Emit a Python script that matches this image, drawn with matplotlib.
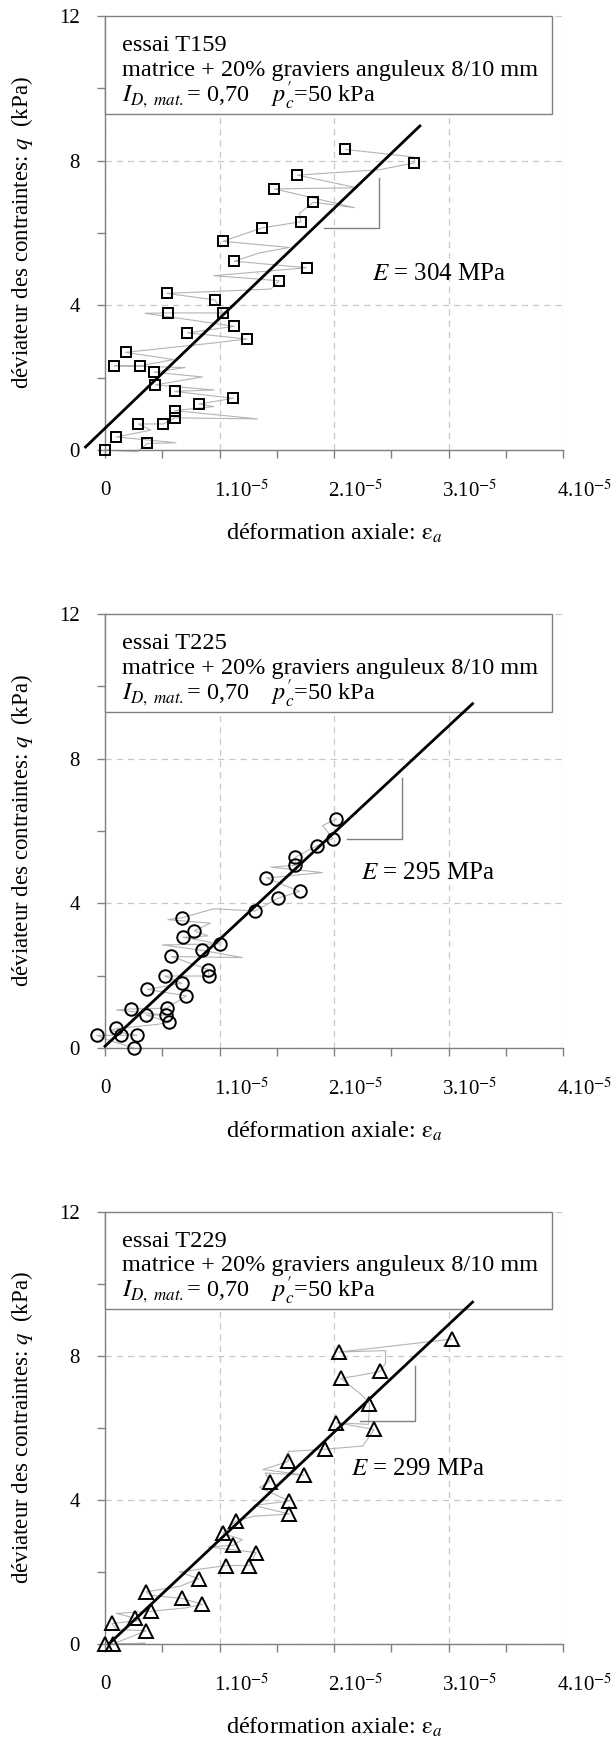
import numpy as np
import matplotlib
matplotlib.use("Agg")
import matplotlib.pyplot as plt
from matplotlib.patches import Rectangle
from matplotlib.transforms import ScaledTranslation

plt.rcParams['font.family'] = ['Liberation Serif', 'DejaVu Serif']
plt.rcParams['mathtext.fontset'] = 'stix'

# --- data (strain in units of 1e-5, q in kPa) ---
tests = ["T159", "T225", "T229"]
moduli = [304, 295, 299]          # MPa
intercepts = [0.6, 0.05, -0.1]    # kPa
fit_x0 = [-0.17, 0.0, 0.04]
fit_x1 = [2.75, 3.21, 3.21]

# slope triangles: x_left, x_right, q_low, q_high
tri_x = [(1.91, 2.39), (2.11, 2.59), (2.23, 2.71)]
tri_q = [(6.14, 7.53), (5.79, 7.47), (6.20, 7.72)]
e_label_pos = [(2.33, 4.87), (2.24, 4.83), (2.15, 4.85)]

t159_x = [0, 0.37, 0.10, 0.29, 0.51, 0.61, 0.61, 0.82, 1.12, 0.61, 0.44, 0.43, 0.08,
          0.31, 0.18, 1.24, 0.72, 1.13, 0.55, 1.03, 0.96, 0.54, 1.52, 1.76, 1.13,
          1.03, 1.37, 1.71, 1.82, 1.48, 1.68, 2.10, 2.70]
t159_q = [0, 0.18, 0.36, 0.72, 0.72, 0.89, 1.09, 1.27, 1.43, 1.62, 1.80, 2.15, 2.33,
          2.33, 2.70, 3.07, 3.24, 3.42, 3.79, 3.79, 4.15, 4.33, 4.68, 5.04, 5.22,
          5.77, 6.14, 6.31, 6.85, 7.22, 7.60, 8.31, 7.94]

t225_x = [0.25, -0.07, 0.14, 0.28, 0.10, 0.56, 0.36, 0.53, 0.23, 0.54, 0.71, 0.37,
          0.67, 0.52, 0.91, 0.90, 0.58, 0.85, 1.00, 0.68, 0.78, 0.67, 1.31, 1.51,
          1.70, 1.41, 1.66, 1.66, 1.85, 1.99, 2.02]
t225_q = [0.0, 0.35, 0.35, 0.35, 0.54, 0.71, 0.91, 0.91, 1.08, 1.10, 1.44, 1.62,
          1.79, 1.99, 1.99, 2.17, 2.53, 2.70, 2.88, 3.06, 3.24, 3.60, 3.79, 4.14,
          4.33, 4.70, 5.05, 5.27, 5.59, 5.79, 6.33]

t229_x = [0, 0.07, 0.36, 0.06, 0.26, 0.40, 0.85, 0.67, 0.36, 0.82, 1.06, 1.26, 1.32,
          1.12, 1.03, 1.14, 1.61, 1.61, 1.44, 1.74, 1.60, 1.92, 2.35, 2.02, 2.31,
          2.06, 2.40, 2.04, 3.03]
t229_q = [0, 0, 0.37, 0.57, 0.72, 0.91, 1.10, 1.27, 1.45, 1.81, 2.18, 2.18, 2.54,
          2.74, 3.07, 3.41, 3.61, 3.97, 4.51, 4.69, 5.07, 5.41, 5.96, 6.15, 6.67,
          7.38, 7.57, 8.11, 8.47]

# raw signal traces (grey)
trace159_x = [0, 0.28, 0.37, 0.62, 0.10, 0.40, 0.29, 0.51, 0.61, 1.33, 0.61, 0.95, 0.82,
              1.12, 0.61, 0.95, 0.44, 0.85, 0.43, 0.70, 0.08, 0.31, 0.60, 0.18, 0.95,
              1.24, 0.72, 1.13, 0.35, 0.55, 1.03, 0.96, 0.54, 1.45, 1.52, 0.95, 1.76,
              1.13, 1.35, 1.61, 1.03, 1.37, 1.71, 1.70, 1.82, 2.18, 1.48, 2.20, 1.68,
              2.40, 2.70, 2.70, 2.10]
trace159_q = [0, -0.05, 0.18, 0.20, 0.36, 0.55, 0.72, 0.72, 0.89, 0.86, 1.09, 1.20, 1.27,
              1.43, 1.62, 1.66, 1.80, 2.02, 2.15, 2.28, 2.33, 2.33, 2.50, 2.70, 2.96,
              3.07, 3.24, 3.42, 3.78, 3.79, 3.79, 4.15, 4.33, 4.45, 4.68, 4.82, 5.04,
              5.22, 5.45, 5.60, 5.77, 6.14, 6.31, 6.55, 6.85, 6.70, 7.22, 7.25, 7.60,
              7.75, 7.94, 8.10, 8.31]
trace225_x = [0.25, 0.0, -0.07, 0.14, 0.28, 0.05, 0.10, 0.45, 0.56, 0.36, 0.53, 0.10,
              0.23, 0.54, 0.71, 0.37, 0.67, 0.52, 0.91, 0.90, 0.58, 1.20, 0.85, 0.50,
              1.00, 0.68, 0.90, 0.78, 0.92, 0.55, 0.67, 0.95, 1.31, 1.51, 1.70, 1.41,
              1.90, 1.45, 1.66, 1.66, 1.85, 1.99, 1.90, 2.02]
trace225_q = [0.0, 0.25, 0.35, 0.35, 0.35, 0.48, 0.54, 0.65, 0.71, 0.91, 0.91, 1.05,
              1.08, 1.10, 1.44, 1.62, 1.79, 1.99, 1.99, 2.17, 2.53, 2.50, 2.70, 2.85,
              2.88, 3.06, 3.10, 3.24, 3.45, 3.55, 3.60, 3.85, 3.79, 4.14, 4.33, 4.70,
              4.85, 5.00, 5.05, 5.27, 5.59, 5.79, 6.15, 6.33]
trace229_x = [0, 0.35, 0.07, 0.36, 0.10, 0.06, 0.30, 0.26, 0.10, 0.40, 0.70, 0.85, 0.67,
              0.40, 0.36, 0.65, 0.82, 0.65, 1.06, 1.26, 1.32, 0.90, 1.12, 1.20, 1.03,
              1.14, 1.30, 1.61, 1.30, 1.61, 1.35, 1.44, 1.40, 1.74, 1.38, 1.60, 1.60,
              1.92, 2.25, 2.35, 2.02, 2.30, 2.31, 2.25, 2.06, 2.20, 2.40, 2.45, 2.45,
              2.04, 2.30, 3.03]
trace229_q = [0, 0.02, 0, 0.37, 0.40, 0.57, 0.65, 0.72, 0.85, 0.91, 1.00, 1.10, 1.27,
              1.35, 1.45, 1.60, 1.81, 2.00, 2.18, 2.18, 2.54, 2.70, 2.74, 2.90, 3.07,
              3.41, 3.55, 3.61, 3.85, 3.97, 4.35, 4.51, 4.75, 4.69, 4.85, 5.07, 5.35,
              5.41, 5.50, 5.96, 6.15, 6.10, 6.67, 6.90, 7.38, 7.45, 7.57, 7.80, 8.15,
              8.11, 8.20, 8.47]

points_x = [t159_x, t225_x, t229_x]
points_q = [t159_q, t225_q, t229_q]
traces_x = [trace159_x, trace225_x, trace229_x]
traces_q = [trace159_q, trace225_q, trace229_q]
markers = ['s', 'o', '^']
msizes = [7.5, 9, 9.5]

xtick_labels = ['0', r'1.10$^{-5}$', r'2.10$^{-5}$', r'3.10$^{-5}$', r'4.10$^{-5}$']
ytick_labels = ['0', '4', '8', '12']

# axes rectangles in pixels (left, top, width, height) on a 613x1737 canvas
W, H = 613, 1737
panels_px = [(105, 16, 458, 434), (105, 614, 458, 434), (105, 1212, 458, 432)]

grey = '#808080'
fig = plt.figure(figsize=(W / 100, H / 100), dpi=100)

for i in range(3):
    l, t, w, h = panels_px[i]
    ax = fig.add_axes([l / W, (H - t - h) / H, w / W, h / H])
    ax.set_xlim(0, 4)
    ax.set_ylim(0, 12)
    for s in ['top', 'right']:
        ax.spines[s].set_visible(False)
    for s in ['left', 'bottom']:
        ax.spines[s].set_color(grey)
        ax.spines[s].set_linewidth(1)

    ax.set_xticks([0, 1, 2, 3, 4])
    ax.set_xticks([0.5, 1.5, 2.5, 3.5], minor=True)
    ax.set_yticks([0, 4, 8, 12])
    ax.set_yticks([2, 6, 10], minor=True)
    ax.set_xticklabels(xtick_labels, fontsize=15)
    ax.set_yticklabels(ytick_labels, fontsize=15)
    ax.tick_params(which='both', direction='out', length=6, width=1, color=grey)
    ax.tick_params(axis='x', which='major', pad=16)
    ax.tick_params(axis='y', which='major', pad=12)
    for k, lab in enumerate(ax.get_xticklabels()):
        if k > 0:
            lab.set_horizontalalignment('left')
            lab.set_transform(lab.get_transform() +
                              ScaledTranslation(-6 / 100, 0, fig.dpi_scale_trans))

    ax.grid(True, which='major', ls=(0, (5, 4)), color='#c8c8c8', lw=0.9)
    ax.set_axisbelow(True)

    # info box
    ax.add_patch(Rectangle((0, 9.3), 3.9, 2.7, facecolor='white', edgecolor=grey,
                           lw=1, zorder=3, clip_on=False))
    ax.text(0.15, 11.18, "essai " + tests[i], fontsize=17.5, va='center', zorder=4)
    ax.text(0.15, 10.5, "matrice + 20% graviers anguleux 8/10 mm", fontsize=17.5,
            va='center', zorder=4)
    ax.text(0.15, 9.8, r"$I_{D,\ mat.}$= 0,70    $p_{c}^{\prime}$=50 kPa", fontsize=17.5,
            va='center', zorder=4)

    # raw trace
    ax.plot(traces_x[i], traces_q[i], color='#b4b4b4', lw=0.8, zorder=2, clip_on=False)

    # linear fit
    xf = np.array([fit_x0[i], fit_x1[i]])
    ax.plot(xf, moduli[i] * 1e3 * xf * 1e-5 + intercepts[i], color='black', lw=2,
            zorder=5, clip_on=False)

    # points
    ax.plot(points_x[i], points_q[i], ls='none', marker=markers[i], ms=msizes[i],
            mfc='none', mec='black', mew=1.4, zorder=6, clip_on=False)

    # slope triangle
    (xa, xb), (qa, qb) = tri_x[i], tri_q[i]
    ax.plot([xa, xb, xb], [qa, qa, qb], color=grey, lw=1, zorder=4)
    ax.text(e_label_pos[i][0], e_label_pos[i][1], r"$E$ = %d MPa" % moduli[i],
            fontsize=18, va='center', zorder=4)

    ax.set_xlabel(r"déformation axiale: $\mathrm{ε}_{a}$", fontsize=17.5, labelpad=14)
    ax.set_ylabel(r"déviateur des contraintes: $q$  (kPa)", fontsize=16.5, labelpad=14)
    ax.yaxis.set_label_coords(-70 / w, 0.5)

fig.savefig("out.png", dpi=100)
